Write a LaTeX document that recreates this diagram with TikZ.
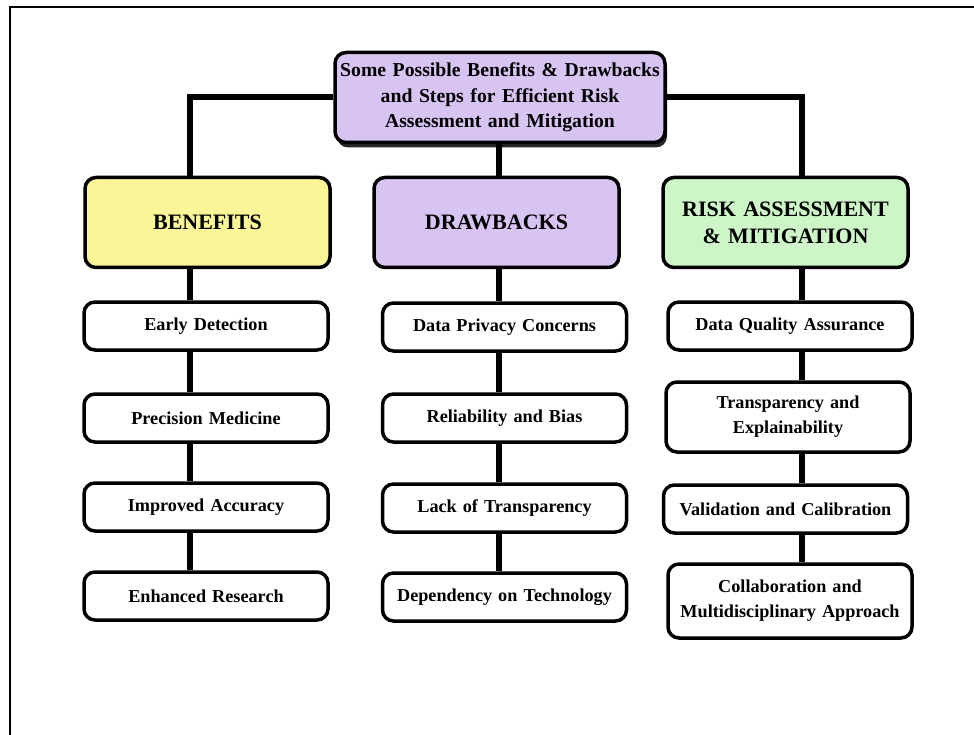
\documentclass[tikz,border=0pt]{standalone}
\usepackage{fontspec}
\setmainfont{Liberation Serif}
\usetikzlibrary{shadows}
\definecolor{hdryellow}{RGB}{250,245,150}
\definecolor{hdrpurple}{RGB}{216,196,242}
\definecolor{hdrgreen}{RGB}{206,245,200}
\tikzset{
  box/.style={draw=black, line width=3.5pt, rounded corners=11pt, align=center,
    inner sep=2pt, font=\bfseries},
  titlebox/.style={box, fill=hdrpurple, text width=326pt, minimum height=90pt,
    font=\bfseries\fontsize{19.7}{25.5}\selectfont,
    drop shadow={shadow xshift=2pt, shadow yshift=-5pt, fill=black!85, opacity=1}},
  header/.style={box, text width=241pt, minimum height=90pt,
    font=\bfseries\fontsize{22}{27}\selectfont},
  item/.style={box, fill=white, text width=240pt, minimum height=48pt,
    font=\bfseries\fontsize{18.2}{25}\selectfont},
  link/.style={line width=6.5pt},
  frame/.style={line width=2.5pt}
}
\begin{document}
\begin{tikzpicture}[x=1pt,y=-1pt]
\useasboundingbox (0,0) rectangle (974,735);
% outer frame (only the top and left sides fall inside the page)
\coordinate (frameTL) at (10,7);
\draw[frame] (974,7) -- (frameTL) -- (10,735);

% column connector lines
\coordinate (cb) at (190,0);
\coordinate (cd) at (499,0);
\coordinate (cr) at (802,0);

% title
\node[titlebox] (title) at (500,97.5) {Some Possible Benefits \& Drawbacks\\and Steps for Efficient Risk\\Assessment and Mitigation};

% headers
\node[header, fill=hdryellow] (ben) at (207.5,222.5) {BENEFITS};
\node[header, fill=hdrpurple] (dra) at (496.5,222.5) {DRAWBACKS};
\node[header, fill=hdrgreen]  (ris) at (785.5,222.5) {RISK ASSESSMENT\\\& MITIGATION};

% benefits column
\node[item] (b1) at (206,326) {Early Detection};
\node[item] (b2) at (206,418) {Precision Medicine};
\node[item] (b3) at (206,507) {Improved Accuracy};
\node[item] (b4) at (206,596) {Enhanced Research};

% drawbacks column
\node[item] (d1) at (504.5,327) {Data Privacy Concerns};
\node[item] (d2) at (504.5,418) {Reliability and Bias};
\node[item] (d3) at (504.5,508) {Lack of Transparency};
\node[item] (d4) at (504.5,597) {Dependency on Technology};

% risk column
\node[item] (r1) at (790,326) {Data Quality Assurance};
\node[item, minimum height=70pt] (r2) at (788,417) {Transparency and\\Explainability};
\node[item] (r3) at (785.5,509) {Validation and Calibration};
\node[item, minimum height=74pt] (r4) at (790,601) {Collaboration and\\Multidisciplinary Approach};

% connectors from the title to the headers
\draw[link] (title.west |- 0,97) -- (cb |- 0,97) -- (cb |- ben.north);
\draw[link] (title.east |- 0,97) -- (cr |- 0,97) -- (cr |- ris.north);
\draw[link] (cd |- title.south) -- (cd |- dra.north);

% connectors down each column
\draw[link] (cb |- ben.south) -- (cb |- b1.north);
\draw[link] (cb |- b1.south) -- (cb |- b2.north);
\draw[link] (cb |- b2.south) -- (cb |- b3.north);
\draw[link] (cb |- b3.south) -- (cb |- b4.north);

\draw[link] (cd |- dra.south) -- (cd |- d1.north);
\draw[link] (cd |- d1.south) -- (cd |- d2.north);
\draw[link] (cd |- d2.south) -- (cd |- d3.north);
\draw[link] (cd |- d3.south) -- (cd |- d4.north);

\draw[link] (cr |- ris.south) -- (cr |- r1.north);
\draw[link] (cr |- r1.south) -- (cr |- r2.north);
\draw[link] (cr |- r2.south) -- (cr |- r3.north);
\draw[link] (cr |- r3.south) -- (cr |- r4.north);
\end{tikzpicture}
\end{document}
